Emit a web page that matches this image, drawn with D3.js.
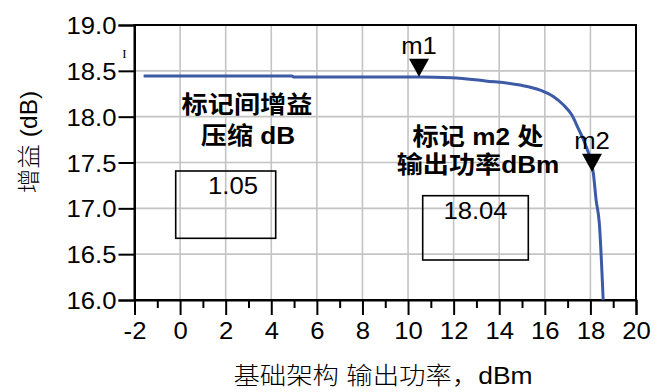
<!DOCTYPE html>
<html><head><meta charset="utf-8">
<script src="https://cdn.jsdelivr.net/npm/d3@7"></script>
<style>html,body{margin:0;padding:0;background:#fff;}svg{display:block;}</style>
</head><body>
<svg id="c" width="661" height="392"></svg>
<script>
// ---- data ----
const powerIn = [-1.6, 4.9, 5.0, 10.5, 11.9, 13.4, 14.91, 15.79, 16.37, 16.81, 17.18, 17.47, 17.76, 17.98, 18.13, 18.25, 18.39, 18.56];
const gainDb  = [18.445, 18.445, 18.432, 18.432, 18.425, 18.39, 18.345, 18.29, 18.22, 18.13, 18.02, 17.87, 17.71, 17.55, 17.38, 17.09, 16.84, 16.0];
const markerNames = ["m1", "m2"];
const markerX = [10.48, 18.07];
const markerY = [18.435, 17.40];
const xTicks = [-2, 0, 2, 4, 6, 8, 10, 12, 14, 16, 18, 20];
const xMinorTicks = [-1, 1, 3, 5, 7, 9, 11, 13, 15, 17, 19];
const yTicks = [16.0, 16.5, 17.0, 17.5, 18.0, 18.5, 19.0];
const compressionValue = ["1.05"];
const outputValue = ["18.04"];
const note1 = ["标记间增益", "压缩 dB"];
const note2 = ["标记 m2 处", "输出功率dBm"];
const xTitle = "基础架构 输出功率，dBm";
const yTitle = "增益 (dB)";

// ---- layout ----
const L = 134.5, R = 636, T = 25, B = 300;
const SX = 1.07;
const svg = d3.select("#c");
const x = d3.scaleLinear().domain([-2, 20]).range([L, R]);
const y = d3.scaleLinear().domain([16, 19]).range([B, T]);
const FONT = "'Liberation Sans', Arial, 'Noto Sans CJK SC', sans-serif";

function stext(g, px, py, str, o = {}) {
  return g.append("text")
    .attr("transform", `translate(${px},${py}) scale(${o.sx || SX},1)`)
    .attr("text-anchor", o.anchor || "middle")
    .attr("font-family", o.family || FONT)
    .attr("font-size", o.size || 24)
    .attr("font-weight", o.weight || "normal")
    .attr("fill", "#000")
    .text(str);
}

// grid
const grid = svg.append("g").attr("stroke", "#c4c4c4").attr("stroke-width", 1.6);
grid.selectAll("line.v").data(xTicks.filter(d => d > -2 && d < 20)).enter().append("line")
  .attr("x1", d => x(d)).attr("x2", d => x(d)).attr("y1", T).attr("y2", B);
grid.selectAll("line.h").data(yTicks.filter(d => d > 16 && d < 19)).enter().append("line")
  .attr("y1", d => y(d)).attr("y2", d => y(d)).attr("x1", L).attr("x2", R);

// frame
svg.append("rect").attr("x", L).attr("y", T).attr("width", R - L).attr("height", B - T)
  .attr("fill", "none").attr("stroke", "#000").attr("stroke-width", 2);

// y axis
const ya = svg.append("g").attr("transform", `translate(${L},0)`)
  .call(d3.axisLeft(y).tickValues(yTicks).tickSize(16).tickPadding(3).tickFormat(d3.format(".1f")));
ya.select(".domain").attr("stroke-width", 2);
ya.selectAll(".tick line").attr("stroke-width", 2);
ya.selectAll(".tick text").attr("font-family", FONT).attr("font-size", 24).attr("fill", "#000")
  .attr("dy", "0.36em").attr("transform", `scale(${SX},1)`).attr("x", -18 / SX);

// x axis major
const xa = svg.append("g").attr("transform", `translate(0,${B})`)
  .call(d3.axisBottom(x).tickValues(xTicks).tickSize(15).tickPadding(7).tickFormat(d => String(d)));
xa.select(".domain").attr("stroke-width", 2);
xa.selectAll(".tick line").attr("stroke-width", 2);
xa.selectAll(".tick text").attr("font-family", FONT).attr("font-size", 24).attr("fill", "#000")
  .attr("transform", `scale(${SX},1)`);
xa.selectAll(".tick text").each(function() {
  // keep the scaled label centred on its tick
  d3.select(this).attr("x", 0);
});
// x axis minor
const xm = svg.append("g").attr("transform", `translate(0,${B})`)
  .call(d3.axisBottom(x).tickValues(xMinorTicks).tickSize(8).tickFormat(""));
xm.select(".domain").remove();
xm.selectAll(".tick line").attr("stroke-width", 2);

// curve
svg.append("path")
  .datum(powerIn.map((p, i) => [p, gainDb[i]]))
  .attr("fill", "none").attr("stroke", "#3c5aa6").attr("stroke-width", 3)
  .attr("stroke-linejoin", "round")
  .attr("d", d3.line().curve(d3.curveMonotoneX).x(d => x(d[0])).y(d => y(d[1])));

// markers
markerNames.forEach((m, i) => {
  const mx = x(markerX[i]), my = y(markerY[i]);
  svg.append("path").attr("d", `M${mx},${my} L${mx - 10},${my - 18} L${mx + 10},${my - 18} Z`).attr("fill", "#000");
  stext(svg, mx, my - 23, m);
});

// boxes
svg.append("rect").attr("x", 175.7).attr("y", 171).attr("width", 100).attr("height", 67.3)
  .attr("fill", "none").attr("stroke", "#000").attr("stroke-width", 1.6);
stext(svg, 233, 193.5, compressionValue[0]);
svg.append("rect").attr("x", 422.7).attr("y", 195.7).attr("width", 105.6).attr("height", 64.3)
  .attr("fill", "none").attr("stroke", "#000").attr("stroke-width", 1.6);
stext(svg, 475.5, 218.5, outputValue[0]);

// annotations
stext(svg, 247, 113, note1[0], {weight: "bold", sx: 1.09});
stext(svg, 248, 144, note1[1], {weight: "bold", sx: 1.09});
stext(svg, 478, 145, note2[0], {weight: "bold", sx: 1.09});
stext(svg, 478, 173, note2[1], {weight: "bold", sx: 1.09});

// titles
stext(svg, 383, 384, xTitle, {size: 24, sx: 1.1, family: "'Liberation Sans', 'Noto Sans CJK SC', sans-serif", weight: "300"});
svg.append("text")
  .attr("transform", `translate(37,142) rotate(-90) scale(${SX},1)`)
  .attr("text-anchor", "middle").attr("font-family", FONT).attr("font-size", 23)
  .attr("font-weight", "300").attr("fill", "#000").text(yTitle);

// cursor artifact
svg.append("text").attr("x", 124.5).attr("y", 58).attr("text-anchor", "middle")
  .attr("font-family", "'Liberation Serif', serif").attr("font-size", 13).attr("fill", "#000").text("I");
</script>
</body></html>
